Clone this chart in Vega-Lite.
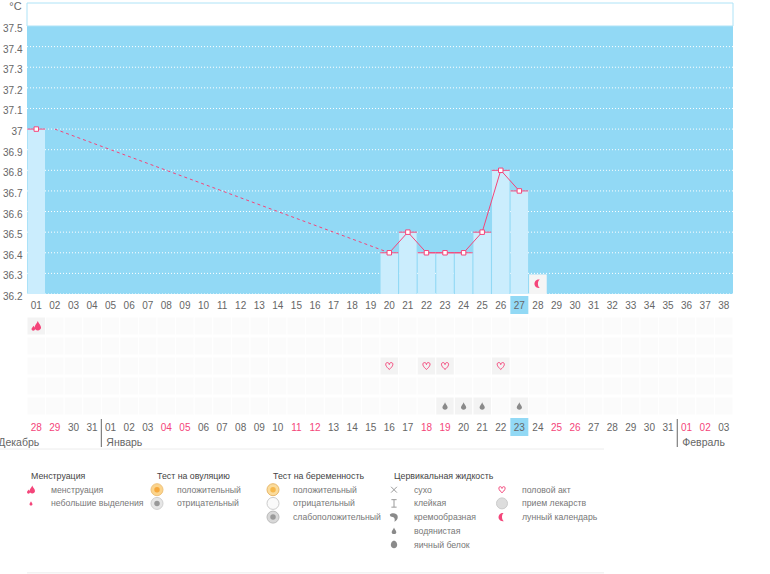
{
  "$schema": "https://vega.github.io/schema/vega-lite/v6.json",
  "padding": {"left": -2, "top": 0, "right": 0, "bottom": 0},
  "background": "white",
  "bounds": "flush",
  "spacing": 0,
  "config": {
    "view": {"stroke": null},
    "text": {"font": "Liberation Sans", "fontSize": 10, "color": "#666"},
    "axis": {"labelFont": "Liberation Sans", "titleFont": "Liberation Sans"}
  },
  "datasets": {
    "days": [
      {"cycle":"01","date":"28","kind":"weekend"},{"cycle":"02","date":"29","kind":"weekend"},{"cycle":"03","date":"30","kind":"weekday"},{"cycle":"04","date":"31","kind":"weekday"},
      {"cycle":"05","date":"01","kind":"weekday"},{"cycle":"06","date":"02","kind":"weekday"},{"cycle":"07","date":"03","kind":"weekday"},{"cycle":"08","date":"04","kind":"weekend"},
      {"cycle":"09","date":"05","kind":"weekend"},{"cycle":"10","date":"06","kind":"weekday"},{"cycle":"11","date":"07","kind":"weekday"},{"cycle":"12","date":"08","kind":"weekday"},
      {"cycle":"13","date":"09","kind":"weekday"},{"cycle":"14","date":"10","kind":"weekday"},{"cycle":"15","date":"11","kind":"weekend"},{"cycle":"16","date":"12","kind":"weekend"},
      {"cycle":"17","date":"13","kind":"weekday"},{"cycle":"18","date":"14","kind":"weekday"},{"cycle":"19","date":"15","kind":"weekday"},{"cycle":"20","date":"16","kind":"weekday"},
      {"cycle":"21","date":"17","kind":"weekday"},{"cycle":"22","date":"18","kind":"weekend"},{"cycle":"23","date":"19","kind":"weekend"},{"cycle":"24","date":"20","kind":"weekday"},
      {"cycle":"25","date":"21","kind":"weekday"},{"cycle":"26","date":"22","kind":"weekday"},{"cycle":"27","date":"23","kind":"weekday"},{"cycle":"28","date":"24","kind":"weekday"},
      {"cycle":"29","date":"25","kind":"weekend"},{"cycle":"30","date":"26","kind":"weekend"},{"cycle":"31","date":"27","kind":"weekday"},{"cycle":"32","date":"28","kind":"weekday"},
      {"cycle":"33","date":"29","kind":"weekday"},{"cycle":"34","date":"30","kind":"weekday"},{"cycle":"35","date":"31","kind":"weekday"},{"cycle":"36","date":"01","kind":"weekend"},
      {"cycle":"37","date":"02","kind":"weekend"},{"cycle":"38","date":"03","kind":"weekday"}
    ],
    "temps": [
      {"cycle":"01","t":37.0,"base":36.2,"series":"a"},
      {"cycle":"20","t":36.4,"base":36.2,"series":"b"},{"cycle":"21","t":36.5,"base":36.2,"series":"b"},{"cycle":"22","t":36.4,"base":36.2,"series":"b"},{"cycle":"23","t":36.4,"base":36.2,"series":"b"},
      {"cycle":"24","t":36.4,"base":36.2,"series":"b"},{"cycle":"25","t":36.5,"base":36.2,"series":"b"},{"cycle":"26","t":36.8,"base":36.2,"series":"b"},{"cycle":"27","t":36.7,"base":36.2,"series":"b"}
    ],
    "events": [
      {"cycle":"01","row":1,"icon":"flow"},
      {"cycle":"20","row":3,"icon":"heart"},{"cycle":"22","row":3,"icon":"heart"},{"cycle":"23","row":3,"icon":"heart"},{"cycle":"26","row":3,"icon":"heart"},
      {"cycle":"23","row":5,"icon":"drop"},{"cycle":"24","row":5,"icon":"drop"},{"cycle":"25","row":5,"icon":"drop"},{"cycle":"27","row":5,"icon":"drop"}
    ],
    "legend": [
      {"col":0,"line":0,"title":"Менструация"},
      {"col":1,"line":0,"title":"Тест на овуляцию"},
      {"col":2,"line":0,"title":"Тест на беременность"},
      {"col":3,"line":0,"title":"Цервикальная жидкость"},
      {"col":0,"line":1,"label":"менструация","icon":"flow"},
      {"col":0,"line":2,"label":"небольшие выделения","icon":"spot"},
      {"col":1,"line":1,"label":"положительный","icon":"ovuPos","dot":"#f6a83c"},
      {"col":1,"line":2,"label":"отрицательный","icon":"ovuNeg","dot":"#999999"},
      {"col":2,"line":1,"label":"положительный","icon":"pregPos","dot":"#f6b84c"},
      {"col":2,"line":2,"label":"отрицательный","icon":"pregNeg"},
      {"col":2,"line":3,"label":"слабоположительный","icon":"pregWeak","dot":"#9a9a9a"},
      {"col":3,"line":1,"label":"сухо","icon":"dry"},
      {"col":3,"line":2,"label":"клейкая","icon":"sticky"},
      {"col":3,"line":3,"label":"кремообразная","icon":"creamy"},
      {"col":3,"line":4,"label":"водянистая","icon":"drop"},
      {"col":3,"line":5,"label":"яичный белок","icon":"egg"},
      {"col":4,"line":1,"label":"половой акт","icon":"heart"},
      {"col":4,"line":2,"label":"прием лекарств","icon":"pill"},
      {"col":4,"line":3,"label":"лунный календарь","icon":"moon"}
    ]
  },
  "vconcat": [
    {
      "width": 706,
      "height": 291,
      "encoding": {
        "x": {
          "field": "cycle",
          "type": "ordinal",
          "axis": null,
          "scale": {"paddingInner": 0, "paddingOuter": 0, "domain": ["01","02","03","04","05","06","07","08","09","10","11","12","13","14","15","16","17","18","19","20","21","22","23","24","25","26","27","28","29","30","31","32","33","34","35","36","37","38"]}
        },
        "y": {
          "field": "t",
          "type": "quantitative",
          "scale": {"domain": [36.2, 37.6116], "nice": false, "zero": false},
          "axis": {
            "title": "°C",
            "titleAngle": 0,
            "titleX": -12,
            "titleY": 3,
            "titleAlign": "center",
            "titleBaseline": "middle",
            "titleFontWeight": "normal",
            "titleFontSize": 11,
            "titleColor": "#666",
            "domain": false,
            "ticks": false,
            "grid": false,
            "labelPadding": 5,
            "labelFontSize": 10,
            "labelColor": "#666",
            "labelOffset": 2.5,
            "labelOverlap": false,
            "labelBound": false,
            "values": [36.2,36.3,36.4,36.5,36.6,36.7,36.8,36.9,37,37.1,37.2,37.3,37.4,37.5],
            "format": ".1~f"
          }
        }
      },
      "layer": [
        {
          "data": {"values": [{"t": 36.2, "top": 37.5}]},
          "mark": {"type": "rect", "fill": "#92d9f5"},
          "encoding": {"x": null, "y2": {"field": "top"}}
        },
        {
          "data": {"values": [{"t": 37.5, "top": 37.6116}]},
          "mark": {"type": "rect", "fill": "white", "stroke": "#aee3f7", "strokeWidth": 1},
          "encoding": {"x": null, "y2": {"field": "top"}}
        },
        {
          "data": {"values": [{"t":36.2},{"t":36.3},{"t":36.4},{"t":36.5},{"t":36.6},{"t":36.7},{"t":36.8},{"t":36.9},{"t":37},{"t":37.1},{"t":37.2},{"t":37.3},{"t":37.4}]},
          "mark": {"type": "rule", "color": "white", "strokeDash": [1, 2], "strokeWidth": 1},
          "encoding": {"x": null}
        },
        {
          "data": {"name": "temps"},
          "mark": {"type": "bar", "fill": "#cbedfd", "width": {"band": 0.94}},
          "encoding": {"y2": {"field": "base"}}
        },
        {
          "data": {"values": [{"cycle": "28", "t": 36.2, "top": 36.295}]},
          "mark": {"type": "bar", "fill": "#f5f5f5", "width": {"band": 0.95}},
          "encoding": {"y2": {"field": "top"}}
        },
        {
          "data": {"values": [{"cycle": "28", "t": 36.25}]},
          "mark": {"type": "point", "filled": true, "opacity": 1, "fill": "#f4457a", "stroke": null, "size": 64, "shape": "M0.5,-1 A1.05,1.05 0 1 0 0.5,1 A0.5,1 0 0 1 0.5,-1 Z"}
        },
        {
          "data": {"values": [{"cycle": "02", "t": 37.0}, {"cycle": "20", "t": 36.4}]},
          "mark": {"type": "line", "color": "#f4457a", "strokeWidth": 1, "strokeDash": [3, 3]}
        },
        {
          "data": {"name": "temps"},
          "mark": {"type": "line", "color": "#f4457a", "strokeWidth": 1},
          "encoding": {"detail": {"field": "series"}}
        },
        {
          "data": {"name": "temps"},
          "mark": {"type": "tick", "color": "#f4457a", "opacity": 1, "thickness": 1, "size": 18}
        },
        {
          "data": {"name": "temps"},
          "mark": {"type": "point", "shape": "square", "filled": false, "opacity": 1, "fill": "white", "stroke": "#f4457a", "strokeWidth": 1, "size": 20}
        }
      ]
    },
    {
      "width": 706,
      "height": 22,
      "data": {"name": "days"},
      "encoding": {
        "x": {
          "field": "cycle",
          "type": "ordinal",
          "axis": null,
          "scale": {"paddingInner": 0, "paddingOuter": 0, "domain": ["01","02","03","04","05","06","07","08","09","10","11","12","13","14","15","16","17","18","19","20","21","22","23","24","25","26","27","28","29","30","31","32","33","34","35","36","37","38"]}
        }
      },
      "layer": [
        {
          "transform": [{"filter": "datum.cycle == '27'"}],
          "mark": {"type": "point", "shape": "square", "filled": true, "opacity": 1, "color": "#92d9f5", "size": 324}
        },
        {
          "mark": {"type": "text", "dy": 1},
          "encoding": {"text": {"field": "cycle"}}
        }
      ]
    },
    {
      "width": 706,
      "height": 103,
      "resolve": {"scale": {"shape": "independent", "fill": "independent", "stroke": "independent", "size": "independent"}},
      "encoding": {
        "x": {
          "field": "cycle",
          "type": "ordinal",
          "axis": null,
          "scale": {"paddingInner": 0, "paddingOuter": 0, "domain": ["01","02","03","04","05","06","07","08","09","10","11","12","13","14","15","16","17","18","19","20","21","22","23","24","25","26","27","28","29","30","31","32","33","34","35","36","37","38"]}
        },
        "y": {
          "field": "row",
          "type": "ordinal",
          "axis": null,
          "scale": {"domain": [1, 2, 3, 4, 5], "range": [0, 100], "paddingInner": 0.1, "paddingOuter": 0.05}
        }
      },
      "layer": [
        {
          "data": {"values": [
            {"cycle":"01","row":1},{"cycle":"01","row":2},{"cycle":"01","row":3},{"cycle":"01","row":4},{"cycle":"01","row":5},
            {"cycle":"02","row":1},{"cycle":"02","row":2},{"cycle":"02","row":3},{"cycle":"02","row":4},{"cycle":"02","row":5},
            {"cycle":"03","row":1},{"cycle":"03","row":2},{"cycle":"03","row":3},{"cycle":"03","row":4},{"cycle":"03","row":5},
            {"cycle":"04","row":1},{"cycle":"04","row":2},{"cycle":"04","row":3},{"cycle":"04","row":4},{"cycle":"04","row":5},
            {"cycle":"05","row":1},{"cycle":"05","row":2},{"cycle":"05","row":3},{"cycle":"05","row":4},{"cycle":"05","row":5},
            {"cycle":"06","row":1},{"cycle":"06","row":2},{"cycle":"06","row":3},{"cycle":"06","row":4},{"cycle":"06","row":5},
            {"cycle":"07","row":1},{"cycle":"07","row":2},{"cycle":"07","row":3},{"cycle":"07","row":4},{"cycle":"07","row":5},
            {"cycle":"08","row":1},{"cycle":"08","row":2},{"cycle":"08","row":3},{"cycle":"08","row":4},{"cycle":"08","row":5},
            {"cycle":"09","row":1},{"cycle":"09","row":2},{"cycle":"09","row":3},{"cycle":"09","row":4},{"cycle":"09","row":5},
            {"cycle":"10","row":1},{"cycle":"10","row":2},{"cycle":"10","row":3},{"cycle":"10","row":4},{"cycle":"10","row":5},
            {"cycle":"11","row":1},{"cycle":"11","row":2},{"cycle":"11","row":3},{"cycle":"11","row":4},{"cycle":"11","row":5},
            {"cycle":"12","row":1},{"cycle":"12","row":2},{"cycle":"12","row":3},{"cycle":"12","row":4},{"cycle":"12","row":5},
            {"cycle":"13","row":1},{"cycle":"13","row":2},{"cycle":"13","row":3},{"cycle":"13","row":4},{"cycle":"13","row":5},
            {"cycle":"14","row":1},{"cycle":"14","row":2},{"cycle":"14","row":3},{"cycle":"14","row":4},{"cycle":"14","row":5},
            {"cycle":"15","row":1},{"cycle":"15","row":2},{"cycle":"15","row":3},{"cycle":"15","row":4},{"cycle":"15","row":5},
            {"cycle":"16","row":1},{"cycle":"16","row":2},{"cycle":"16","row":3},{"cycle":"16","row":4},{"cycle":"16","row":5},
            {"cycle":"17","row":1},{"cycle":"17","row":2},{"cycle":"17","row":3},{"cycle":"17","row":4},{"cycle":"17","row":5},
            {"cycle":"18","row":1},{"cycle":"18","row":2},{"cycle":"18","row":3},{"cycle":"18","row":4},{"cycle":"18","row":5},
            {"cycle":"19","row":1},{"cycle":"19","row":2},{"cycle":"19","row":3},{"cycle":"19","row":4},{"cycle":"19","row":5},
            {"cycle":"20","row":1},{"cycle":"20","row":2},{"cycle":"20","row":3},{"cycle":"20","row":4},{"cycle":"20","row":5},
            {"cycle":"21","row":1},{"cycle":"21","row":2},{"cycle":"21","row":3},{"cycle":"21","row":4},{"cycle":"21","row":5},
            {"cycle":"22","row":1},{"cycle":"22","row":2},{"cycle":"22","row":3},{"cycle":"22","row":4},{"cycle":"22","row":5},
            {"cycle":"23","row":1},{"cycle":"23","row":2},{"cycle":"23","row":3},{"cycle":"23","row":4},{"cycle":"23","row":5},
            {"cycle":"24","row":1},{"cycle":"24","row":2},{"cycle":"24","row":3},{"cycle":"24","row":4},{"cycle":"24","row":5},
            {"cycle":"25","row":1},{"cycle":"25","row":2},{"cycle":"25","row":3},{"cycle":"25","row":4},{"cycle":"25","row":5},
            {"cycle":"26","row":1},{"cycle":"26","row":2},{"cycle":"26","row":3},{"cycle":"26","row":4},{"cycle":"26","row":5},
            {"cycle":"27","row":1},{"cycle":"27","row":2},{"cycle":"27","row":3},{"cycle":"27","row":4},{"cycle":"27","row":5},
            {"cycle":"28","row":1},{"cycle":"28","row":2},{"cycle":"28","row":3},{"cycle":"28","row":4},{"cycle":"28","row":5},
            {"cycle":"29","row":1},{"cycle":"29","row":2},{"cycle":"29","row":3},{"cycle":"29","row":4},{"cycle":"29","row":5},
            {"cycle":"30","row":1},{"cycle":"30","row":2},{"cycle":"30","row":3},{"cycle":"30","row":4},{"cycle":"30","row":5},
            {"cycle":"31","row":1},{"cycle":"31","row":2},{"cycle":"31","row":3},{"cycle":"31","row":4},{"cycle":"31","row":5},
            {"cycle":"32","row":1},{"cycle":"32","row":2},{"cycle":"32","row":3},{"cycle":"32","row":4},{"cycle":"32","row":5},
            {"cycle":"33","row":1},{"cycle":"33","row":2},{"cycle":"33","row":3},{"cycle":"33","row":4},{"cycle":"33","row":5},
            {"cycle":"34","row":1},{"cycle":"34","row":2},{"cycle":"34","row":3},{"cycle":"34","row":4},{"cycle":"34","row":5},
            {"cycle":"35","row":1},{"cycle":"35","row":2},{"cycle":"35","row":3},{"cycle":"35","row":4},{"cycle":"35","row":5},
            {"cycle":"36","row":1},{"cycle":"36","row":2},{"cycle":"36","row":3},{"cycle":"36","row":4},{"cycle":"36","row":5},
            {"cycle":"37","row":1},{"cycle":"37","row":2},{"cycle":"37","row":3},{"cycle":"37","row":4},{"cycle":"37","row":5},
            {"cycle":"38","row":1},{"cycle":"38","row":2},{"cycle":"38","row":3},{"cycle":"38","row":4},{"cycle":"38","row":5}
          ]},
          "mark": {"type": "rect", "fill": "#fbfbfb", "stroke": "white", "strokeWidth": 1}
        },
        {
          "data": {"name": "events"},
          "mark": {"type": "rect", "fill": "#f3f3f3", "stroke": "white", "strokeWidth": 1}
        },
        {
          "data": {"name": "events"},
          "mark": {"type": "point", "filled": false, "opacity": 1, "strokeWidth": 1},
          "encoding": {
            "shape": {"field": "icon", "legend": null, "scale": {
              "domain": ["flow", "heart", "drop"],
              "range": [
                "M0.3,-1 C0.45,-0.5 0.95,-0.15 0.95,0.3 A0.65,0.6 0 1 1 -0.35,0.3 C-0.35,-0.15 0.15,-0.5 0.3,-1 Z M-0.55,-0.05 C-0.45,0.2 -0.25,0.35 -0.25,0.6 A0.35,0.35 0 1 1 -0.95,0.6 C-0.95,0.35 -0.65,0.2 -0.55,-0.05 Z",
                "M0,0.85 C-1.1,0 -1.1,-0.85 -0.45,-0.85 C-0.2,-0.85 0,-0.6 0,-0.35 C0,-0.6 0.2,-0.85 0.45,-0.85 C1.1,-0.85 1.1,0 0,0.85 Z",
                "M0,-1 C0.15,-0.45 0.7,-0.1 0.7,0.4 A0.7,0.6 0 1 1 -0.7,0.4 C-0.7,-0.1 -0.15,-0.45 0,-1 Z"
              ]}},
            "fill": {"field": "icon", "legend": null, "scale": {"domain": ["flow", "heart", "drop"], "range": ["#f4457a", "transparent", "#8a8a8a"]}},
            "stroke": {"field": "icon", "legend": null, "scale": {"domain": ["flow", "heart", "drop"], "range": ["transparent", "#f4457a", "transparent"]}},
            "size": {"field": "icon", "legend": null, "scale": {"type": "ordinal", "domain": ["flow", "heart", "drop"], "range": [100, 64, 56]}}
          }
        }
      ]
    },
    {
      "width": 706,
      "height": 28,
      "encoding": {
        "x": {
          "field": "cycle",
          "type": "ordinal",
          "axis": null,
          "scale": {"paddingInner": 0, "paddingOuter": 0, "domain": ["01","02","03","04","05","06","07","08","09","10","11","12","13","14","15","16","17","18","19","20","21","22","23","24","25","26","27","28","29","30","31","32","33","34","35","36","37","38"]}
        },
        "y": {
          "field": "line",
          "type": "nominal",
          "axis": null,
          "scale": {"type": "point", "domain": ["date", "month"], "range": [8, 23], "padding": 0}
        }
      },
      "layer": [
        {
          "data": {"values": [{"cycle": "27", "line": "date"}]},
          "mark": {"type": "point", "shape": "square", "filled": true, "opacity": 1, "color": "#92d9f5", "size": 324}
        },
        {
          "data": {"values": [{"cycle": "05"}, {"cycle": "36"}]},
          "mark": {"type": "rule", "color": "#666", "strokeWidth": 1},
          "encoding": {"x": {"field": "cycle", "type": "ordinal", "bandPosition": 0}, "y": null}
        },
        {
          "data": {"name": "days"},
          "transform": [{"calculate": "'date'", "as": "line"}],
          "mark": {"type": "text", "dy": 1},
          "encoding": {
            "text": {"field": "date"},
            "color": {"field": "kind", "legend": null, "scale": {"domain": ["weekday", "weekend"], "range": ["#666666", "#f4457a"]}}
          }
        },
        {
          "data": {"values": [{"cycle": "01", "line": "month", "month": "Декабрь"}]},
          "mark": {"type": "text", "align": "right", "dx": 3, "dy": 1, "fontSize": 10.5},
          "encoding": {"text": {"field": "month"}}
        },
        {
          "data": {"values": [{"cycle": "05", "line": "month", "month": "Январь"}, {"cycle": "36", "line": "month", "month": "Февраль"}]},
          "mark": {"type": "text", "align": "left", "dx": 5, "dy": 1, "fontSize": 10.5},
          "encoding": {"x": {"field": "cycle", "type": "ordinal", "bandPosition": 0}, "text": {"field": "month"}}
        }
      ]
    },
    {
      "width": 706,
      "height": 127,
      "resolve": {"scale": {"shape": "independent", "fill": "independent", "stroke": "independent", "size": "independent"}},
      "encoding": {
        "x": {
          "field": "col",
          "type": "quantitative",
          "axis": null,
          "scale": {"domain": [-1, 0, 1, 2, 3, 4, 5], "range": [-27, 4, 130, 246, 367, 475, 577]}
        },
        "y": {
          "field": "line",
          "type": "quantitative",
          "axis": null,
          "scale": {"domain": [-2.117, 7.153], "reverse": true, "nice": false, "zero": false}
        }
      },
      "layer": [
        {
          "data": {"values": [{"col": -1, "end": 5, "line": -1.97}, {"col": -0.13, "end": 5, "line": 7.07}]},
          "mark": {"type": "rule", "color": "#ececec", "strokeWidth": 1},
          "encoding": {"x2": {"field": "end"}}
        },
        {
          "data": {"name": "legend"},
          "transform": [{"filter": "datum.title"}],
          "mark": {"type": "text", "align": "left", "color": "#444", "fontSize": 8.8},
          "encoding": {"text": {"field": "title"}}
        },
        {
          "data": {"name": "legend"},
          "transform": [{"filter": "datum.label"}],
          "mark": {"type": "text", "align": "left", "dx": 20, "color": "#777", "fontSize": 8.7},
          "encoding": {"text": {"field": "label"}}
        },
        {
          "data": {"name": "legend"},
          "transform": [{"filter": "datum.icon && datum.col < 3"}],
          "mark": {"type": "point", "filled": false, "opacity": 1, "strokeWidth": 1, "dx": 6},
          "encoding": {
            "shape": {"field": "icon", "legend": null, "scale": {
              "domain": ["flow", "spot", "ovuPos", "ovuNeg", "pregPos", "pregNeg", "pregWeak"],
              "range": [
                "M0.3,-1 C0.45,-0.5 0.95,-0.15 0.95,0.3 A0.65,0.6 0 1 1 -0.35,0.3 C-0.35,-0.15 0.15,-0.5 0.3,-1 Z M-0.55,-0.05 C-0.45,0.2 -0.25,0.35 -0.25,0.6 A0.35,0.35 0 1 1 -0.95,0.6 C-0.95,0.35 -0.65,0.2 -0.55,-0.05 Z",
                "M0,-1 C0.15,-0.45 0.7,-0.1 0.7,0.4 A0.7,0.6 0 1 1 -0.7,0.4 C-0.7,-0.1 -0.15,-0.45 0,-1 Z",
                "circle", "circle", "circle", "circle", "circle"
              ]}},
            "fill": {"field": "icon", "legend": null, "scale": {
              "domain": ["flow", "spot", "ovuPos", "ovuNeg", "pregPos", "pregNeg", "pregWeak"],
              "range": ["#f4457a", "#f4457a", "#fbd48c", "#e6e6e6", "#fbdc9c", "#fafafa", "#d8d8d8"]}},
            "stroke": {"field": "icon", "legend": null, "scale": {
              "domain": ["flow", "spot", "ovuPos", "ovuNeg", "pregPos", "pregNeg", "pregWeak"],
              "range": ["transparent", "transparent", "#efc27c", "#d0d0d0", "#e8b86c", "#cccccc", "#bbbbbb"]}},
            "size": {"field": "icon", "legend": null, "scale": {
              "type": "ordinal",
              "domain": ["flow", "spot", "ovuPos", "ovuNeg", "pregPos", "pregNeg", "pregWeak"],
              "range": [70, 18, 144, 144, 144, 144, 144]}}
          }
        },
        {
          "data": {"name": "legend"},
          "transform": [{"filter": "datum.dot"}],
          "mark": {"type": "point", "shape": "circle", "filled": true, "opacity": 1, "dx": 6, "size": 30},
          "encoding": {"color": {"field": "dot", "type": "nominal", "scale": null}}
        },
        {
          "data": {"name": "legend"},
          "transform": [{"filter": "datum.icon && datum.col >= 3"}],
          "mark": {"type": "point", "filled": false, "opacity": 1, "strokeWidth": 1, "dx": 11},
          "encoding": {
            "shape": {"field": "icon", "legend": null, "scale": {
              "domain": ["dry", "sticky", "creamy", "drop", "egg", "heart", "pill", "moon"],
              "range": [
                "M-1,-1 L1,1 M1,-1 L-1,1",
                "M-0.7,-1 L0.7,-1 M0,-1 L0,1 M-0.7,1 L0.7,1",
                "M-1,-0.6 C-0.5,-1.1 0.9,-1 0.9,0 C0.9,0.6 0.5,1 0.1,1.1 C0.3,0.5 0.1,0.1 -0.3,0 C-0.7,0 -1,-0.2 -1,-0.6 Z",
                "M0,-1 C0.15,-0.45 0.7,-0.1 0.7,0.4 A0.7,0.6 0 1 1 -0.7,0.4 C-0.7,-0.1 -0.15,-0.45 0,-1 Z",
                "M0,-1 C0.6,-1 0.85,-0.3 0.85,0.15 A0.85,0.85 0 1 1 -0.85,0.15 C-0.85,-0.3 -0.6,-1 0,-1 Z",
                "M0,0.85 C-1.1,0 -1.1,-0.85 -0.45,-0.85 C-0.2,-0.85 0,-0.6 0,-0.35 C0,-0.6 0.2,-0.85 0.45,-0.85 C1.1,-0.85 1.1,0 0,0.85 Z",
                "circle",
                "M0.5,-1 A1.05,1.05 0 1 0 0.5,1 A0.5,1 0 0 1 0.5,-1 Z"
              ]}},
            "fill": {"field": "icon", "legend": null, "scale": {
              "domain": ["dry", "sticky", "creamy", "drop", "egg", "heart", "pill", "moon"],
              "range": ["transparent", "transparent", "#8a8a8a", "#8a8a8a", "#8a8a8a", "transparent", "#dddddd", "#f4457a"]}},
            "stroke": {"field": "icon", "legend": null, "scale": {
              "domain": ["dry", "sticky", "creamy", "drop", "egg", "heart", "pill", "moon"],
              "range": ["#9a9a9a", "#9a9a9a", "transparent", "transparent", "transparent", "#f4457a", "#cccccc", "transparent"]}},
            "size": {"field": "icon", "legend": null, "scale": {
              "type": "ordinal",
              "domain": ["dry", "sticky", "creamy", "drop", "egg", "heart", "pill", "moon"],
              "range": [34, 56, 70, 44, 56, 50, 121, 64]}}
          }
        }
      ]
    }
  ]
}
